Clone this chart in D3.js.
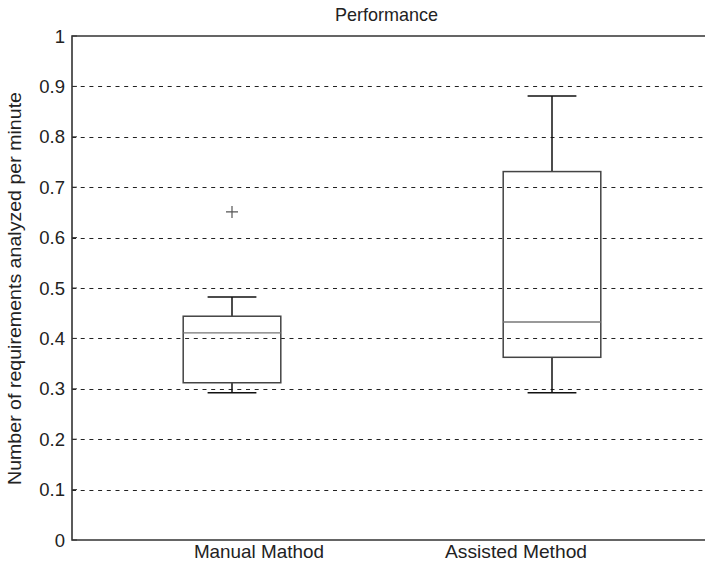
<!DOCTYPE html>
<html><head><meta charset="utf-8">
<script src="https://cdn.jsdelivr.net/npm/d3@7"></script>
<style>body{margin:0;background:#fff;}svg{display:block;}</style>
</head><body>
<svg id="c" width="705" height="564"></svg>
<script>
const categories = ["Manual Mathod", "Assisted Method"];
const positions = [1, 2];
const labelPositions = [1.084, 1.8875];
const lowerWhisker = [0.292, 0.292];
const q1 = [0.312, 0.3625];
const medians = [0.411, 0.4325];
const q3 = [0.444, 0.731];
const upperWhisker = [0.482, 0.881];
const outliers = [[0.651], []];
const yTicks = [0, 0.1, 0.2, 0.3, 0.4, 0.5, 0.6, 0.7, 0.8, 0.9, 1];
const gridTicks = [0.1, 0.2, 0.3, 0.4, 0.5, 0.6, 0.7, 0.8, 0.9];

const svg = d3.select("#c");
const L = 72, R = 712, T = 36, B = 540;
const x = d3.scaleLinear().domain([0.5, 2.5]).range([L, R]);
const y = d3.scaleLinear().domain([0, 1]).range([B, T]);
const boxW = 0.305;
const font = "'Liberation Sans', Arial, sans-serif";

// grid
svg.append("g").selectAll("line").data(gridTicks).join("line")
  .attr("x1", L).attr("x2", R)
  .attr("y1", d => Math.round(y(d)) + 0.5).attr("y2", d => Math.round(y(d)) + 0.5)
  .attr("stroke", "#222").attr("stroke-width", 1).attr("stroke-dasharray", "4,4.7");

// axes frame
svg.append("path")
  .attr("d", `M${R},${T}H${L}V${B}H${R}`)
  .attr("fill", "none").attr("stroke", "#333").attr("stroke-width", 1.6);

// y tick marks
svg.append("g").selectAll("line").data(yTicks).join("line")
  .attr("x1", L).attr("x2", L + 5)
  .attr("y1", d => y(d)).attr("y2", d => y(d))
  .attr("stroke", "#333").attr("stroke-width", 1);

// y tick labels
svg.append("g").selectAll("text").data(yTicks).join("text")
  .attr("x", L - 7).attr("y", d => y(d)).attr("dy", "0.36em")
  .attr("text-anchor", "end").attr("font-family", font).attr("font-size", 18.5)
  .attr("fill", "#222").text(d => d3.format("")(d));

// boxes
const g = svg.append("g");
positions.forEach((p, i) => {
  const cx = x(p), hw = (x(p + boxW / 2) - x(p - boxW / 2)) / 2;
  const cw = hw / 2;
  // whiskers
  g.append("line").attr("x1", cx).attr("x2", cx).attr("y1", y(q3[i])).attr("y2", y(upperWhisker[i]))
    .attr("stroke", "#111").attr("stroke-width", 1.5);
  g.append("line").attr("x1", cx).attr("x2", cx).attr("y1", y(q1[i])).attr("y2", y(lowerWhisker[i]))
    .attr("stroke", "#111").attr("stroke-width", 1.5);
  g.append("line").attr("x1", cx - cw).attr("x2", cx + cw).attr("y1", y(upperWhisker[i])).attr("y2", y(upperWhisker[i]))
    .attr("stroke", "#111").attr("stroke-width", 1.5);
  g.append("line").attr("x1", cx - cw).attr("x2", cx + cw).attr("y1", y(lowerWhisker[i])).attr("y2", y(lowerWhisker[i]))
    .attr("stroke", "#111").attr("stroke-width", 1.5);
  // box
  g.append("rect").attr("x", cx - hw).attr("y", y(q3[i])).attr("width", 2 * hw).attr("height", y(q1[i]) - y(q3[i]))
    .attr("fill", "none").attr("stroke", "#444").attr("stroke-width", 1.5);
  // median
  g.append("line").attr("x1", cx - hw).attr("x2", cx + hw).attr("y1", y(medians[i])).attr("y2", y(medians[i]))
    .attr("stroke", "#777").attr("stroke-width", 1.3);
  // outliers
  outliers[i].forEach(o => {
    g.append("path").attr("d", `M${cx - 6},${y(o)}H${cx + 6}M${cx},${y(o) - 6}V${y(o) + 6}`)
      .attr("stroke", "#555").attr("stroke-width", 1.2).attr("fill", "none");
  });
});

// category labels
svg.append("g").selectAll("text").data(categories).join("text")
  .attr("x", (d, i) => x(labelPositions[i])).attr("y", 558)
  .attr("text-anchor", "middle").attr("font-family", font).attr("font-size", 19)
  .attr("textLength", (d, i) => [130, 142][i]).attr("lengthAdjust", "spacingAndGlyphs")
  .attr("fill", "#222").text(d => d);

// title
svg.append("text").attr("x", 386.5).attr("y", 20.5).attr("text-anchor", "middle")
  .attr("font-family", font).attr("font-size", 19).attr("textLength", 103).attr("lengthAdjust", "spacingAndGlyphs")
  .attr("fill", "#222").text("Performance");

// y axis label
svg.append("text").attr("transform", "translate(21,288.5) rotate(-90)").attr("text-anchor", "middle")
  .attr("font-family", font).attr("font-size", 19).attr("textLength", 393).attr("lengthAdjust", "spacingAndGlyphs")
  .attr("fill", "#222").text("Number of requirements analyzed per minute");
</script>
</body></html>
